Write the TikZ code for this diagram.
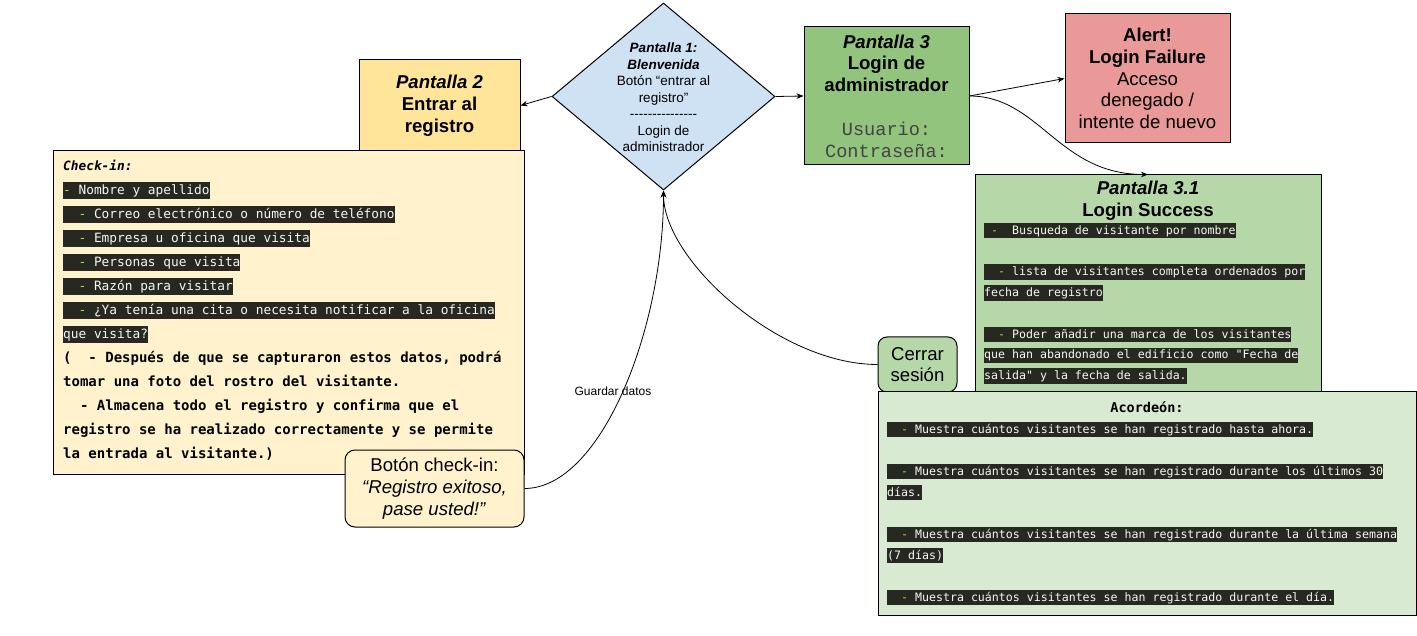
\documentclass[tikz,border=0pt]{standalone}
\usepackage{fontspec}
\setmainfont{Liberation Sans}
\newfontfamily\monof{DejaVu Sans Mono}
\newfontfamily\courf{Liberation Mono}
\usetikzlibrary{shapes.geometric,arrows.meta}
\definecolor{dblue}{HTML}{CFE2F3}
\definecolor{yelA}{HTML}{FFE599}
\definecolor{yelB}{HTML}{FFF2CC}
\definecolor{grnA}{HTML}{93C47D}
\definecolor{grnB}{HTML}{B6D7A8}
\definecolor{grnC}{HTML}{D9EAD3}
\definecolor{redA}{HTML}{EA9999}
\definecolor{hlbg}{HTML}{272822}
\definecolor{hlfg}{HTML}{F8F8F2}
\definecolor{hldash}{HTML}{A6E22E}
\definecolor{mgray}{HTML}{434343}
\newcommand\msp{\frenchspacing\spaceskip=0.602em\relax\xspaceskip=0.602em\relax}
\newcommand\hlx[1]{{\msp\setlength{\fboxsep}{0pt}\colorbox{hlbg}{\msp\rule[-0.35em]{0pt}{1.33em}\color{hlfg}#1}}}
\newcommand\dsh{\textcolor{hldash}{-}}
\newcommand\bmono{\bfseries\fontsize{14}{24}\selectfont\msp}
\begin{document}
\begin{tikzpicture}[x=1pt,y=-1pt,
  box/.style={draw=black, line width=1pt, rectangle, inner sep=0pt, align=center},
  arr/.style={-{Stealth[length=7pt,width=5.5pt]}, line width=0.8pt},
  bigf/.style={font=\fontsize{18.6}{21.8}\selectfont}]
\useasboundingbox (0,0) rectangle (1417,636);

% Pantalla 2
\node[box, fill=yelA, minimum width=161pt, minimum height=91pt, bigf] (p2) at (439.5,105.5)
  {\textbf{\textit{Pantalla 2}}\\\textbf{Entrar al}\\\textbf{registro}};
% Check-in box
\node[box, fill=yelB, minimum width=471pt, minimum height=323pt] (ck) at (288.5,312.5) {};
\node[anchor=north west, inner sep=0pt, text width=460pt, align=left,
      font=\monof\fontsize{12.8}{24}\selectfont] (ckt) at (63,158.5) {%
\rule{0pt}{12pt}{\bfseries\itshape Check-in:}\\
\hlx{\dsh{} Nombre y apellido}\\
\hlx{\ \ \dsh{} Correo electrónico o número de teléfono}\\
\hlx{\ \ \dsh{} Empresa u oficina que visita}\\
\hlx{\ \ \dsh{} Personas que visita}\\
\hlx{\ \ \dsh{} Razón para visitar}\\
\hlx{\ \ \dsh{} ¿Ya tenía una cita o necesita notificar a la oficina}\\
\hlx{que visita?}\\
{\bmono (\ \ - Después de que se capturaron estos datos, podrá}\\
{\bmono tomar una foto del rostro del visitante.}\\
{\bmono \mbox{}\ \ - Almacena todo el registro y confirma que el}\\
{\bmono registro se ha realizado correctamente y se permite}\\
{\bmono la entrada al visitante.)}};
% Boton check-in
\node[box, rounded corners=10pt, fill=yelB, minimum width=179pt, minimum height=77pt, bigf] (bt) at (434.5,488.5)
  {Botón check-in:\\\textit{“Registro exitoso,}\\\textit{pase usted!”}};

% Diamond
\node[diamond, draw=black, line width=1pt, fill=dblue, minimum width=223pt, minimum height=187pt, inner sep=0pt] (d1) at (663.5,96.5) {};
\node[align=center, inner sep=0pt, font=\fontsize{13.5}{16.5}\selectfont] (d1t) at (663.5,97.5)
  {\textbf{\textit{Pantalla 1:}}\\\textbf{\textit{Blenvenida}}\\Botón “entrar al\\registro”\\-{}-{}-{}-{}-{}-{}-{}-{}-{}-{}-{}-{}-{}-{}-\\Login de\\administrador};

% Pantalla 3
\node[box, fill=grnA, minimum width=165pt, minimum height=138pt, bigf] (p3) at (886.5,96)
  {\textbf{\textit{Pantalla 3}}\\\textbf{Login de}\\\textbf{administrador}\\[21.8pt]{\courf\color{mgray}Usuario:}\\{\courf\color{mgray}Contraseña:}};
% Alert
\node[box, fill=redA, minimum width=165pt, minimum height=129pt, bigf] (al) at (1147.5,78.5)
  {\textbf{Alert!}\\\textbf{Login Failure}\\Acceso\\denegado /\\intente de nuevo};

% Pantalla 3.1
\node[box, fill=grnB, minimum width=346pt, minimum height=217pt] (p31) at (1148,283.5) {};
\node[align=center, inner sep=0pt, bigf] (p31t) at (1148,201)
  {\textbf{\textit{Pantalla 3.1}}\\\textbf{Login Success}};
\node[anchor=north west, inner sep=0pt, text width=335pt, align=left,
      font=\monof\fontsize{11.6}{20.8}\selectfont] (p31l) at (984,222.6) {%
\hlx{\ \dsh{}\ \ Busqueda de visitante por nombre}\\[20.8pt]
\hlx{\ \ \dsh{} lista de visitantes completa ordenados por}\\
\hlx{fecha de registro}\\[20.8pt]
\hlx{\ \ \dsh{} Poder añadir una marca de los visitantes}\\
\hlx{que han abandonado el edificio como "Fecha de}\\
\hlx{salida" y la fecha de salida.}};

% Cerrar sesion
\node[box, rounded corners=9pt, fill=grnB, minimum width=79pt, minimum height=55pt, bigf] (cs) at (917.5,364.5)
  {Cerrar\\sesión};

% Acordeon
\node[box, fill=grnC, minimum width=538pt, minimum height=223pt] (ac) at (1147,503.5) {};
\node[inner sep=0pt, font=\monof\bfseries\fontsize{13.5}{16}\selectfont] (act) at (1147,407) {Acordeón:};
\node[anchor=north west, inner sep=0pt, text width=525pt, align=left,
      font=\monof\fontsize{11.6}{21}\selectfont] (acl) at (887,421.6) {%
\hlx{\ \ \dsh{} Muestra cuántos visitantes se han registrado hasta ahora.}\\[21pt]
\hlx{\ \ \dsh{} Muestra cuántos visitantes se han registrado durante los últimos 30}\\
\hlx{días.}\\[21pt]
\hlx{\ \ \dsh{} Muestra cuántos visitantes se han registrado durante la última semana}\\
\hlx{(7 días)}\\[21pt]
\hlx{\ \ \dsh{} Muestra cuántos visitantes se han registrado durante el día.}};

% Connectors
\draw[arr] (d1.west) -- (p2.east);
\draw[arr] (d1.east) -- (p3.west);
\draw[arr] (p3.east) -- (al.west);
\draw[arr] (p3.east) .. controls +(70,0) and +(-90,0) .. (p31.north);
\draw[arr] (bt.east) .. controls +(76,0) and +(0,140) .. (d1.south);
\draw[arr] (cs.west) .. controls +(-98,0) and +(0,70) .. (d1.south);
\node[inner sep=0pt, font=\fontsize{12}{14}\selectfont] (gd) at (613,391) {Guardar datos};
\end{tikzpicture}
\end{document}
